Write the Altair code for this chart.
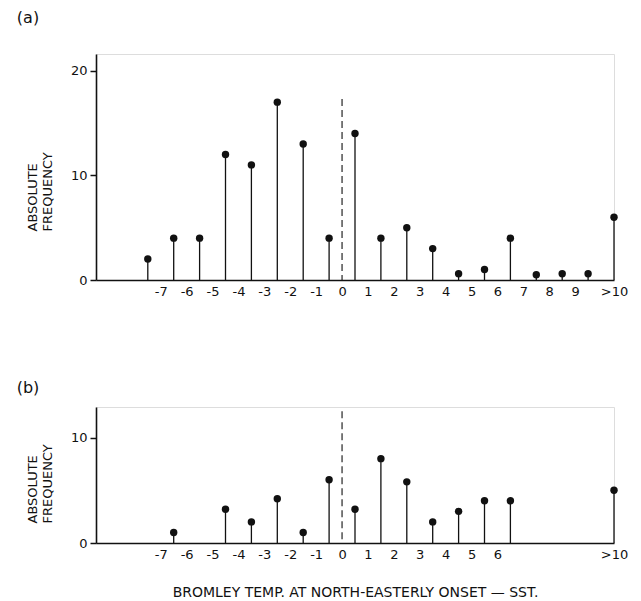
import altair as alt
import pandas as pd

# ---- data ----
bin_mid_a = [-7.5, -6.5, -5.5, -4.5, -3.5, -2.5, -1.5, -0.5, 0.5, 1.5,
             2.5, 3.5, 4.5, 5.5, 6.5, 7.5, 8.5, 9.5, 10.5]
freq_a = [2, 4, 4, 12, 11, 17, 13, 4, 14, 4, 5, 3, 0.6, 1, 4, 0.5, 0.6, 0.6, 6]

bin_mid_b = [-6.5, -4.5, -3.5, -2.5, -1.5, -0.5, 0.5, 1.5, 2.5, 3.5,
             4.5, 5.5, 6.5, 10.5]
freq_b = [1, 3.2, 2, 4.2, 1, 6, 3.2, 8, 5.8, 2, 3, 4, 4, 5]

x_ticks_a = [-7, -6, -5, -4, -3, -2, -1, 0, 1, 2, 3, 4, 5, 6, 7, 8, 9, 10.5]
x_ticks_b = [-7, -6, -5, -4, -3, -2, -1, 0, 1, 2, 3, 4, 5, 6, 10.5]
y_ticks_a = [0, 10, 20]
y_ticks_b = [0, 10]

x_domain = [-9.5, 10.5]
y_domain_a = [0, 21.6]
y_domain_b = [0, 12.9]
zero_line_top_a = 17.3
zero_line_top_b = 12.5

panel_labels = ["(a)", "(b)"]
y_title = ["ABSOLUTE", "FREQUENCY"]
x_title = "BROMLEY TEMP. AT NORTH-EASTERLY ONSET \u2014 SST."

FONT = "DejaVu Sans"
INK = "#111111"


def panel(bins, freqs, xticks, yticks, ydom, zero_top, label, label_y,
          title_y, height, with_xtitle):
    df = pd.DataFrame({"x": bins, "f": freqs})
    zdf = pd.DataFrame({"x": [0], "f": [zero_top]})
    ldf = pd.DataFrame({"t": [label]})

    xaxis_kw = dict(
        values=xticks,
        labelExpr="datum.value > 10 ? '>10' : toString(datum.value)",
        ticks=False, tickSize=0, labelPadding=5, grid=False,
        domainColor=INK, domainWidth=1.6, labelFontSize=13,
        labelColor=INK, labelFlush=False, labelOverlap=False,
        labelFont=FONT,
    )
    if with_xtitle:
        xaxis_kw.update(title=x_title, titleFontSize=14,
                        titleFontWeight="normal", titleColor=INK,
                        titlePadding=24, titleFont=FONT)
        xenc = alt.X("x:Q", scale=alt.Scale(domain=x_domain, nice=False, zero=False),
                     axis=alt.Axis(**xaxis_kw))
    else:
        xenc = alt.X("x:Q", scale=alt.Scale(domain=x_domain, nice=False, zero=False),
                     axis=alt.Axis(**xaxis_kw), title=None)

    yenc = alt.Y(
        "f:Q",
        scale=alt.Scale(domain=ydom, nice=False, zero=True),
        axis=alt.Axis(
            values=yticks, tickSize=6, tickColor=INK, tickWidth=1.5,
            domainColor=INK, domainWidth=1.6, labelPadding=3,
            labelFontSize=13, labelColor=INK, labelFont=FONT, grid=False,
            title=y_title, titleAngle=-90, titleAlign="left",
            titleBaseline="top", titleX=-70, titleY=title_y,
            titleFontSize=13, titleFontWeight="normal", titleColor=INK,
            titleLineHeight=15, titleFont=FONT,
        ),
    )

    stems = alt.Chart(df).mark_rule(color=INK, strokeWidth=1.3).encode(
        x=xenc, y=yenc, y2=alt.datum(0))
    dots = alt.Chart(df).mark_circle(color=INK, size=55, opacity=1).encode(
        x=xenc, y=yenc)
    zero = alt.Chart(zdf).mark_rule(color=INK, strokeWidth=1.1,
                                    strokeDash=[7, 4]).encode(
        x=xenc, y=yenc, y2=alt.datum(0))
    lab = alt.Chart(ldf).mark_text(font=FONT, fontSize=16, color=INK,
                                   align="center", baseline="middle").encode(
        text="t:N", x=alt.value(-68), y=alt.value(label_y))

    return alt.layer(stems, dots, zero, lab).properties(width=518, height=height)


top = panel(bin_mid_a, freq_a, x_ticks_a, y_ticks_a, y_domain_a,
            zero_line_top_a, panel_labels[0], -36, 177, 226, False)
bottom = panel(bin_mid_b, freq_b, x_ticks_b, y_ticks_b, y_domain_b,
               zero_line_top_b, panel_labels[1], -19, 116, 136, True)

chart = alt.vconcat(top, bottom, spacing=80).properties(
    padding={"left": 16, "top": 9, "right": 0, "bottom": 0},
    background="white",
).configure_view(stroke=None).configure(font=FONT)

chart.save("out.html", embed_options={"renderer": "svg", "actions": False})
